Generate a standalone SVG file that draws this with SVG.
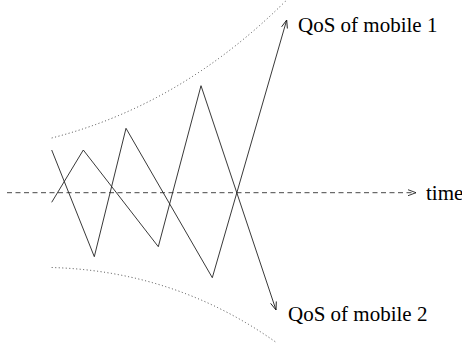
<svg xmlns="http://www.w3.org/2000/svg" width="462" height="351" viewBox="0 0 462 351">
<style>
.ln{fill:none;stroke:#222;stroke-width:0.9}
.dot{fill:none;stroke:#333;stroke-width:0.9;stroke-dasharray:1 2.5}
.dash{fill:none;stroke:#333;stroke-width:0.9;stroke-dasharray:5 3.5}
.lbl{font-family:"Liberation Serif",serif;font-size:21px;fill:#000}
</style>
<defs>
<marker id="ah" markerWidth="10" markerHeight="8" refX="9" refY="4" orient="auto" markerUnits="userSpaceOnUse">
<path d="M1,1 L9,4 L1,7" fill="none" stroke="#222" stroke-width="0.9"/>
</marker>
</defs>
<rect width="462" height="351" fill="#fff"/>
<g id="bounds">
<path class="dot" d="M51.7,138 Q181.5,105 286.7,0"/>
<path class="dot" d="M51.7,267.5 Q176,271 277,343"/>
</g>
<g id="connectors">
<path class="dash" d="M7,192.7 L416,192.7" marker-end="url(#ah)"/>
<path class="ln" d="M51.7,150 L94.3,256.7 L126,128.3 L212.3,277.7 L286.7,20" marker-end="url(#ah)"/>
<path class="ln" d="M51.7,202.3 L83.3,150 L158.3,246.7 L201,85.7 L276,310" marker-end="url(#ah)"/>
</g>
<g id="label-time"><text class="lbl" x="426" y="200">time</text></g>
<g id="label-m1"><text class="lbl" x="298" y="32">QoS of mobile 1</text></g>
<g id="label-m2"><text class="lbl" x="288" y="321">QoS of mobile 2</text></g>
</svg>
